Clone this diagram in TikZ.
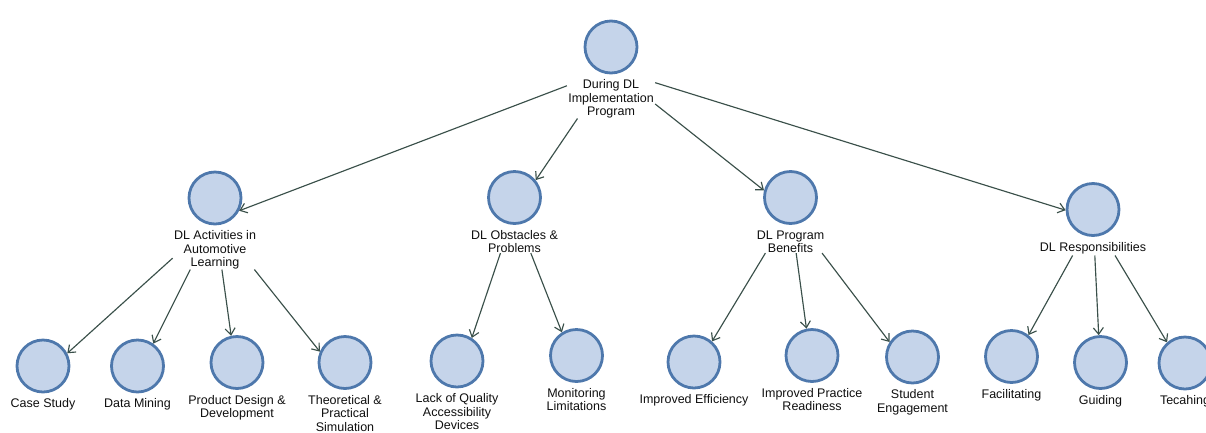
\documentclass[tikz,border=0pt]{standalone}
\usepackage{fontspec}
\setmainfont{Liberation Sans}
\usetikzlibrary{arrows.meta,fit,intersections}
\definecolor{cfill}{RGB}{197,212,234}
\definecolor{cline}{RGB}{78,120,172}
\definecolor{eline}{RGB}{58,80,74}
\definecolor{ctext}{RGB}{15,15,15}
\newcommand\mknode[4]{%
  \node[circ] (#1c) at (#2,#3) {};
  \node[lab] (#1l) at ([yshift=-4.5pt]#1c.south) {\strut #4};
  \node[grp,fit=(#1c)(#1l)] (#1) {};
}
\begin{document}
\begin{tikzpicture}[x=1pt,y=-1pt,
  circ/.style={circle,draw=cline,fill=cfill,line width=2.8pt,minimum size=52pt,inner sep=0pt},
  lab/.style={anchor=north,inner xsep=1pt,inner ysep=0pt,align=center,font=\fontsize{12.5}{13.5}\selectfont,text=ctext},
  grp/.style={inner sep=0pt},
  edge/.style={draw=eline,line width=1.15pt,-{Straight Barb[length=6.5pt,width=10pt]}}]
\useasboundingbox (0,0) rectangle (1206,432);
\mknode{top}{611}{47}{During DL\\Implementation\\Program}
\mknode{A}{215}{198}{DL Activities in\\Automotive\\Learning}
\mknode{B}{514.5}{197.5}{DL Obstacles \&\\Problems}
\mknode{C}{790.5}{197.5}{DL Program\\Benefits}
\mknode{D}{1093}{209.5}{DL Responsibilities}
\mknode{a1}{43}{366}{Case Study}
\mknode{a2}{137.5}{366}{Data Mining}
\mknode{a3}{237}{362.5}{Product Design \&\\Development}
\mknode{a4}{345}{362.5}{Theoretical \&\\Practical\\Simulation}
\mknode{b1}{457}{361}{Lack of Quality\\Accessibility\\Devices}
\mknode{b2}{576.5}{355.5}{Monitoring\\Limitations}
\mknode{c1}{694}{362}{Improved Efficiency}
\mknode{c2}{812}{355.5}{Improved Practice\\Readiness}
\mknode{c3}{912.5}{357}{Student\\Engagement}
\mknode{d1}{1011.5}{356.5}{Facilitating}
\mknode{d2}{1100.5}{362.5}{Guiding}
\mknode{d3}{1185}{363}{Tecahing}
\foreach \s/\t in {top/A,top/B,top/C,top/D,A/a1,A/a2,A/a3,A/a4,B/b1,B/b2,C/c1,C/c2,C/c3,D/d1,D/d2,D/d3}{
  \path[name path=ln] (\s.center) -- (\t.center);
  \path[name path=cc] (\t c.center) circle[radius=27.4pt];
  \path[name intersections={of=ln and cc,by={\t tip}}];
  \draw[edge] (\s) -- (\t tip);
}
\end{tikzpicture}
\end{document}
